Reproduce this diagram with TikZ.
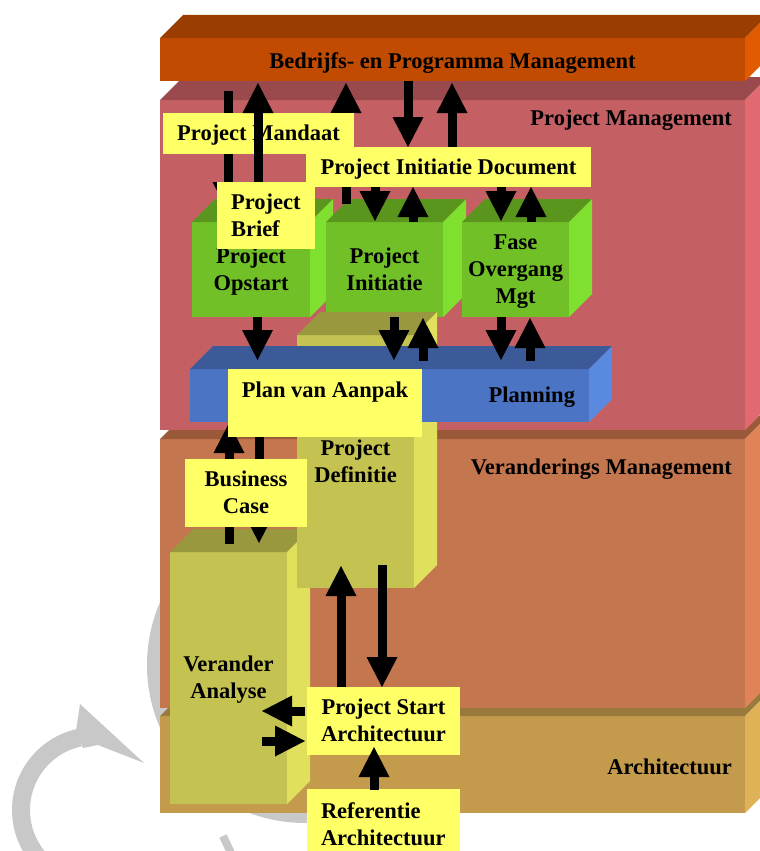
\documentclass[tikz,border=0pt]{standalone}
\usepackage{fontspec}
\setmainfont{Liberation Serif}
\usetikzlibrary{arrows.meta,calc}

% slab, cube and note colours
\definecolor{bpmFront}{HTML}{C14B00}
\definecolor{bpmTop}{HTML}{993D00}
\definecolor{bpmSide}{HTML}{E05A00}
\definecolor{pmFront}{HTML}{C46064}
\definecolor{pmTop}{HTML}{9A4A4C}
\definecolor{pmSide}{HTML}{E06A70}
\definecolor{vmFront}{HTML}{C4764E}
\definecolor{vmTop}{HTML}{9A5A3A}
\definecolor{vmSide}{HTML}{E08458}
\definecolor{arFront}{HTML}{C49A4C}
\definecolor{arTop}{HTML}{9A7A3C}
\definecolor{arSide}{HTML}{E0B258}
\definecolor{grFront}{HTML}{72C028}
\definecolor{grTop}{HTML}{5A961E}
\definecolor{grSide}{HTML}{80E030}
\definecolor{olFront}{HTML}{C4C250}
\definecolor{olTop}{HTML}{9A983E}
\definecolor{olSide}{HTML}{E0E05C}
\definecolor{blFront}{HTML}{4C74C4}
\definecolor{blTop}{HTML}{3C5A98}
\definecolor{blSide}{HTML}{5A8AE0}
\definecolor{noteYellow}{HTML}{FFFF66}
\definecolor{wmark}{HTML}{C8C8C8}

% line strut: keeps cap letters centred in their boxes
\newcommand\ls{\rule[-6.05pt]{0pt}{27pt}}

% top and right-hand faces of a block whose front face is node #1
\newcommand\boxfaces[3]{%
  \fill[#2] (#1.north west) -- ++(23,-23) -- ($(#1.north east)+(23,-23)$) -- (#1.north east) -- cycle;
  \fill[#3] (#1.north east) -- ++(23,-23) -- ($(#1.south east)+(23,-23)$) -- (#1.south east) -- cycle;
}

\pgfdeclarelayer{back}
\pgfdeclarelayer{arrowsbehind}
\pgfdeclarelayer{mandaatlayer}
\pgfdeclarelayer{briefarrow}
\pgfdeclarelayer{front}
\pgfsetlayers{back,arrowsbehind,mandaatlayer,briefarrow,main,front}

\begin{document}
\begin{tikzpicture}[x=1pt,y=-1pt,
  font=\bfseries\fontsize{22.5pt}{27pt}\selectfont,
  boxbase/.style={inner sep=0pt, outer sep=0pt, anchor=north west},
  slabnode/.style={boxbase, minimum width=585pt},
  cubefront/.style={boxbase, align=center},
  notebox/.style={boxbase, fill=noteYellow, align=center},
  slablabel/.style={anchor=base east, inner sep=0pt},
  fatarrow/.style={line width=9pt, -{Triangle[width=31pt,length=30pt,line width=0pt]}}
]
\useasboundingbox (0,0) rectangle (760,851);

\begin{pgfonlayer}{back}
  % watermark
  \draw[wmark, line width=20pt] (305,665) circle[radius=148pt];
  \draw[wmark, line width=18pt] plot[domain=128:258, samples=60] ({95+74*cos(\x)}, {810+74*sin(\x)});
  \fill[wmark] (76,731) -- (80,704) -- (144,763) -- (98,745) -- (83,748) -- cycle;
  \draw[wmark, line width=8pt] (223,836) -- (231,853);

  % stacked management layers
  \node[slabnode, fill=arFront, minimum height=97pt] (arch) at (160,716) {};
  \boxfaces{arch}{arTop}{arSide}
  \node[slablabel] (archlabel) at (732,774) {Architectuur};

  \node[slabnode, fill=vmFront, minimum height=269pt] (vm) at (160,439) {};
  \boxfaces{vm}{vmTop}{vmSide}
  \node[slablabel] (vmlabel) at (732,474) {Veranderings Management};

  \node[slabnode, fill=pmFront, minimum height=330pt] (pm) at (160,100) {};
  \boxfaces{pm}{pmTop}{pmSide}
  \node[slablabel] (pmlabel) at (732,125.5) {Project Management};

  \node[slabnode, fill=bpmFront, text height=30pt, text depth=13pt] (bpm) at (160,38) {Bedrijfs- en Programma Management};
  \boxfaces{bpm}{bpmTop}{bpmSide}

  % process blocks
  \node[cubefront, fill=grFront, minimum width=118pt, minimum height=95pt] (opstart) at (192,222) {\ls Project\\\ls Opstart};
  \boxfaces{opstart}{grTop}{grSide}
  \node[cubefront, fill=grFront, minimum width=117pt, minimum height=95pt] (initiatie) at (326,222) {\ls Project\\\ls Initiatie};
  \boxfaces{initiatie}{grTop}{grSide}
  \node[cubefront, fill=grFront, minimum width=107pt, minimum height=95pt] (fase) at (462,222) {\ls Fase\\\ls Overgang\\\ls Mgt};
  \boxfaces{fase}{grTop}{grSide}

  \node[cubefront, fill=olFront, minimum width=117pt, minimum height=252pt] (verander) at (170,552) {\ls Verander\\\ls Analyse};
  \boxfaces{verander}{olTop}{olSide}
  \node[cubefront, fill=olFront, minimum width=117pt, minimum height=253pt] (definitie) at (297,335) {\ls Project\\\ls Definitie};
  \boxfaces{definitie}{olTop}{olSide}

  \node[cubefront, fill=blFront, minimum height=53pt, text width=371pt, inner xsep=14pt, align=right] (planning) at (190,369) {\ls Planning};
  \boxfaces{planning}{blTop}{blSide}
\end{pgfonlayer}

% products
\begin{pgfonlayer}{mandaatlayer}
  \node[notebox, minimum width=191pt, minimum height=41pt] (mandaat) at (163,113) {\ls Project Mandaat};
\end{pgfonlayer}
\node[notebox, minimum width=285pt, minimum height=40pt] (pid) at (306,147) {\ls Project Initiatie Document};
\node[notebox, align=left, text width=70pt, inner xsep=14pt, minimum height=67pt] (brief) at (217,182) {\ls Project\\\ls Brief};
\node[notebox, minimum width=194pt, text height=28.5pt, text depth=39.5pt] (plan) at (228,369) {Plan van Aanpak};
\node[notebox, minimum width=122pt, minimum height=68pt] (bcase) at (185,459) {\ls Business\\\ls Case};
\node[notebox, minimum width=153pt, minimum height=68pt] (psa) at (307,687) {\ls Project Start\\\ls Architectuur};
\node[notebox, align=left, text width=125pt, inner xsep=14pt, minimum height=71pt] (ref) at (307,789) {\ls Referentie\\\ls Architectuur};

% flows
\begin{pgfonlayer}{arrowsbehind}
  \draw[fatarrow] ($(bpm.south)+(-224.5,10)$) -- ($(opstart.north)+(-23,-10)$);
  \draw[fatarrow] ($(initiatie.north)+(-38.5,-18)$) -- ($(bpm.south)+(-106.5,2)$);
  \draw[fatarrow] ($(bpm.south)+(-44.5,0)$) -- ($(pid.north)+(-40.5,0)$);
  \draw[fatarrow] ($(pid.north)+(3.5,0)$) -- ($(bpm.south)+(-0.5,2)$);
  \draw[fatarrow] ($(pid.south)+(-73.5,0)$) -- ($(initiatie.north)+(-9.5,-1)$);
  \draw[fatarrow] ($(initiatie.north)+(28.5,0)$) -- ($(pid.south)+(-35.5,0)$);
  \draw[fatarrow] ($(pid.south)+(52.5,0)$) -- ($(fase.north)+(-14.5,-1)$);
  \draw[fatarrow] ($(fase.north)+(15.5,0)$) -- ($(pid.south)+(82.5,0)$);
  \draw[fatarrow] ($(opstart.south)+(6.5,0)$) -- ($(planning.north)+(-132,-9)$);
  \draw[fatarrow] ($(initiatie.south)+(9.5,0)$) -- ($(planning.north)+(4.5,-9)$);
  \draw[fatarrow] ($(planning.north)+(33.5,-8)$) -- ($(initiatie.south)+(38.5,1)$);
  \draw[fatarrow] ($(fase.south)+(-14.5,0)$) -- ($(planning.north)+(111.5,-9)$);
  \draw[fatarrow] ($(planning.north)+(140.5,-8)$) -- ($(fase.south)+(14.5,1)$);
  \draw[fatarrow] ($(verander.north)+(0.5,-8)$) -- ($(plan.south)+(-96,-14)$);
  \draw[fatarrow] ($(plan.south)+(-66,0)$) -- ($(verander.north)+(30.5,-9)$);
  \draw[fatarrow] ($(psa.north)+(-42.5,1)$) -- ($(definitie.south)+(-14.5,-22)$);
  \draw[fatarrow] ($(definitie.south)+(26.5,-23)$) -- ($(psa.north)+(-1.5,0)$);
  \draw[fatarrow] ($(psa.west)+(-2,-10)$) -- ($(verander.east)+(-25,33)$);
  \draw[fatarrow] ($(verander.east)+(-25,63)$) -- ($(psa.west)+(-2,20)$);
\end{pgfonlayer}
\begin{pgfonlayer}{briefarrow}
  \draw[fatarrow] ($(brief.north)+(-8,0)$) -- ($(bpm.south)+(-194.5,2)$);
\end{pgfonlayer}
\begin{pgfonlayer}{front}
  \draw[fatarrow] ($(ref.north)+(-9.5,1)$) -- ($(psa.south)+(-9.5,-8)$);
\end{pgfonlayer}
\end{tikzpicture}
\end{document}
